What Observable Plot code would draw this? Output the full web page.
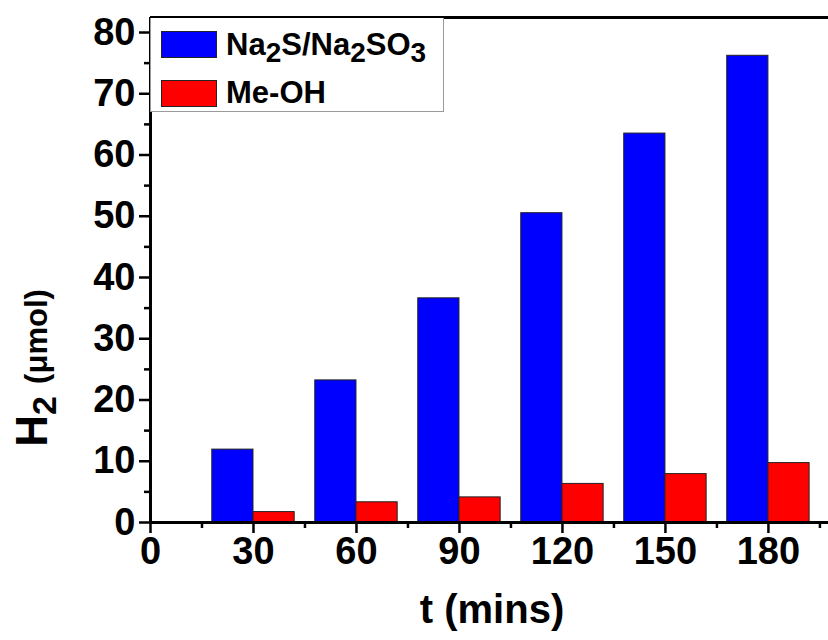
<!DOCTYPE html>
<html>
<head>
<meta charset="utf-8">
<script src="https://cdn.jsdelivr.net/npm/d3@7"></script>
<script src="https://cdn.jsdelivr.net/npm/@observablehq/plot@0.6"></script>
<style>
  html, body { margin: 0; padding: 0; background: white; }
  #wrap { position: relative; width: 828px; height: 640px; overflow: hidden; font-family: "Liberation Sans", Arial, sans-serif; font-weight: bold; color: black; }
  #legend { position: absolute; left: 150px; top: 18px; width: 292px; height: 93px; border: 1px solid #9a9a9a; border-top: none; background: white; }
  .sw { position: absolute; left: 10px; width: 54px; height: 25px; border: 1px solid #222; }
  .lt { position: absolute; left: 75px; font-size: 31px; line-height: 30px; white-space: nowrap; }
  .lt sub { font-size: 28px; vertical-align: -7px; line-height: 0; }
  #ytitle { position: absolute; left: 34px; top: 368px; transform: translate(-50%, -50%) rotate(-90deg); white-space: nowrap; font-size: 44px; line-height: 44px; }
  #ytitle sub { font-size: 34px; vertical-align: -9px; line-height: 0; }
  #ytitle .u { font-size: 31px; }
  #xtitle { position: absolute; left: 492px; top: 589px; transform: translateX(-50%); white-space: nowrap; font-size: 40px; line-height: 40px; }
</style>
</head>
<body>
<div id="wrap"></div>
<script>
const times = [30, 60, 90, 120, 150, 180];
const na2sValues = [11.9, 23.2, 36.6, 50.5, 63.5, 76.2];
const meohValues = [1.7, 3.3, 4.1, 6.3, 7.9, 9.7];
const seriesColors = ["#0000ff", "#ff0000"];
const xTicks = [0, 30, 60, 90, 120, 150, 180];
const xMinorTicks = [15, 45, 75, 105, 135, 165, 195];
const yTicks = [0, 10, 20, 30, 40, 50, 60, 70, 80];
const yMinorTicks = [5, 15, 25, 35, 45, 55, 65, 75];
const xMax = 197.5;
const yMax = 82.45;
const barWidth = 12;

const data = times.map((t, i) => ({ t, na2s: na2sValues[i], meoh: meohValues[i] }));

const chart = Plot.plot({
  width: 828,
  height: 640,
  marginLeft: 150,
  marginRight: 0,
  marginTop: 17,
  marginBottom: 118,
  x: { domain: [0, xMax] },
  y: { domain: [0, yMax] },
  style: { fontFamily: "'Liberation Sans', Arial, sans-serif", color: "black", background: "white", overflow: "visible" },
  marks: [
    Plot.rect(data, { x1: d => d.t - barWidth, x2: "t", y1: 0, y2: "na2s", fill: seriesColors[0], stroke: "#222", strokeWidth: 1 }),
    Plot.rect(data, { x1: "t", x2: d => d.t + barWidth, y1: 0, y2: "meoh", fill: seriesColors[1], stroke: "#222", strokeWidth: 1 }),
    Plot.axisX(xTicks, { tickSize: 11, tickPadding: 4, fontSize: 38, fontWeight: "bold", strokeWidth: 2.5, label: null, tickFormat: d => String(d) }),
    Plot.axisX(xMinorTicks, { tickSize: 6, strokeWidth: 2.5, text: null, label: null }),
    Plot.axisY(yTicks, { tickSize: 11, tickPadding: 4, fontSize: 38, fontWeight: "bold", strokeWidth: 2.5, label: null, tickFormat: d => String(d) }),
    Plot.axisY(yMinorTicks, { tickSize: 6, strokeWidth: 2.5, text: null, label: null }),
    Plot.ruleY([0], { strokeWidth: 3 }),
    Plot.ruleY([yMax], { strokeWidth: 3 }),
    Plot.ruleX([0], { y1: 0, y2: yMax, strokeWidth: 3 })
  ]
});

const wrap = document.getElementById("wrap");
wrap.appendChild(chart);

const legend = document.createElement("div");
legend.id = "legend";
legend.innerHTML =
  `<div class="sw" style="top:13px;background:${seriesColors[0]}"></div>` +
  `<div class="lt" style="top:12px">Na<sub>2</sub>S/Na<sub>2</sub>SO<sub>3</sub></div>` +
  `<div class="sw" style="top:62px;background:${seriesColors[1]}"></div>` +
  `<div class="lt" style="top:60px">Me-OH</div>`;
wrap.appendChild(legend);

const yt = document.createElement("div");
yt.id = "ytitle";
yt.innerHTML = `H<sub>2</sub> <span class="u">(μmol)</span>`;
wrap.appendChild(yt);

const xt = document.createElement("div");
xt.id = "xtitle";
xt.textContent = "t (mins)";
wrap.appendChild(xt);
</script>
</body>
</html>
